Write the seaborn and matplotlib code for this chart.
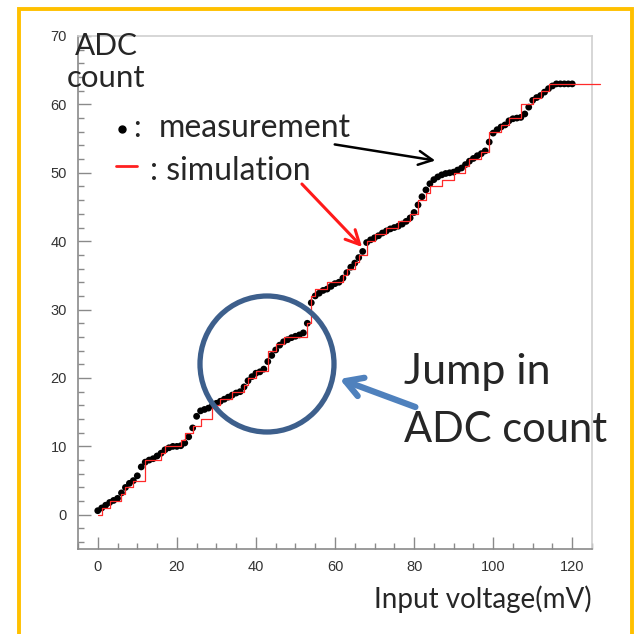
import numpy as np
import pandas as pd
import matplotlib
matplotlib.use("Agg")
import matplotlib.pyplot as plt
from matplotlib.patches import Ellipse, Rectangle, FancyArrowPatch
from matplotlib.lines import Line2D
from matplotlib.ticker import MultipleLocator
import seaborn as sns

# Measured ADC output versus input voltage (1 mV steps, 0..120 mV)
meas_voltage = list(range(0, 121))
meas_adc = [
    0.6, 1.0, 1.4, 1.8, 2.1, 2.4, 3.2, 4.0, 4.6, 5.0,
    5.7, 7.0, 7.7, 8.0, 8.2, 8.6, 9.0, 9.5, 9.8, 10.0,
    10.0, 10.1, 10.5, 11.4, 12.7, 14.4, 15.2, 15.4, 15.6, 16.0,
    16.3, 16.6, 16.9, 17.2, 17.5, 17.8, 18.0, 18.7, 19.6, 20.2,
    20.7, 20.9, 21.3, 22.4, 23.3, 24.1, 24.8, 25.3, 25.6, 25.9,
    26.1, 26.3, 26.6, 28.0, 31.0, 32.0, 32.4, 32.8, 33.0, 33.4,
    33.8, 34.0, 34.6, 35.4, 36.2, 36.8, 37.6, 38.5, 39.8, 40.2,
    40.5, 40.8, 41.2, 41.5, 41.8, 42.0, 42.2, 42.5, 42.9, 43.4,
    44.2, 45.3, 46.5, 47.5, 48.4, 49.0, 49.4, 49.7, 49.9, 50.0,
    50.1, 50.4, 50.7, 51.2, 51.7, 52.1, 52.5, 52.8, 53.2, 54.5,
    55.8, 56.3, 56.7, 57.0, 57.6, 57.9, 58.0, 58.1, 58.6, 59.6,
    60.6, 61.0, 61.3, 61.8, 62.3, 62.7, 63.0, 63.0, 63.0, 63.0,
    63.0,
]

# Simulated ADC code (step response), 0..127 mV
sim_voltage = list(range(0, 128))
sim_code = [
    0, 1, 1, 2, 2, 2, 3, 4, 4, 5,
    5, 5, 8, 8, 8, 8, 9, 10, 10, 10,
    10, 11, 12, 12, 13, 13, 14, 14, 14, 16,
    16, 17, 17, 17, 18, 18, 18, 19, 20, 20,
    21, 21, 21, 24, 24, 25, 25, 26, 26, 26,
    26, 26, 26, 28, 32, 33, 33, 33, 34, 34,
    34, 34, 35, 36, 36, 37, 38, 38, 40, 40,
    41, 41, 41, 42, 42, 42, 43, 43, 43, 44,
    44, 46, 46, 47, 48, 48, 48, 49, 49, 49,
    50, 50, 50, 51, 52, 52, 52, 53, 53, 56,
    56, 56, 57, 57, 58, 58, 58, 60, 60, 60,
    61, 61, 62, 62, 63, 63, 63, 63, 63, 63,
    63, 63, 63, 63, 63, 63, 63, 63,
]

x_ticks = [0, 20, 40, 60, 80, 100, 120]
y_ticks = [0, 10, 20, 30, 40, 50, 60, 70]

meas = pd.DataFrame({"voltage": meas_voltage, "adc": meas_adc})
sim = pd.DataFrame({"voltage": sim_voltage, "adc": sim_code})

sns.set_style("white")
plt.rcParams["font.family"] = ["Lato", "DejaVu Sans"]

W, H = 635, 634
fig = plt.figure(figsize=(W / 100, H / 100), dpi=100)


def fx(px):
    return px / W


def fy(py):
    return 1 - py / H


ax = fig.add_axes([fx(78), fy(549), fx(592) - fx(78), fy(36) - fy(549)])

sns.lineplot(data=sim, x="voltage", y="adc", ax=ax, color="#ff2a2a",
             linewidth=0.9, drawstyle="steps-post", estimator=None,
             sort=False, zorder=3, clip_on=False)
sns.scatterplot(data=meas, x="voltage", y="adc", ax=ax, color="black",
                s=24, edgecolor="none", zorder=2)

ax.set_xlim(-5, 125)
ax.set_ylim(-5, 70)
ax.set_xticks(x_ticks)
ax.set_yticks(y_ticks)
ax.xaxis.set_minor_locator(MultipleLocator(5))
ax.yaxis.set_minor_locator(MultipleLocator(2))
ax.tick_params(axis="both", which="major", direction="in", length=9,
               width=1, color="#8a8a8a", labelsize=10.5, labelcolor="#333333",
               pad=8)
ax.tick_params(axis="both", which="minor", direction="in", length=4.5,
               width=1, color="#8a8a8a")
ax.tick_params(axis="x", which="both", bottom=True)
ax.tick_params(axis="y", which="both", left=True)
for lab in ax.get_xticklabels() + ax.get_yticklabels():
    lab.set_family(["Liberation Sans", "DejaVu Sans"])
ax.set_xlabel("")
ax.set_ylabel("")
for side in ("left", "bottom"):
    ax.spines[side].set_color("#8a8a8a")
    ax.spines[side].set_linewidth(1.2)
for side in ("top", "right"):
    ax.spines[side].set_color("#d0d0d0")
    ax.spines[side].set_linewidth(1.2)

# Axis titles
fig.text(fx(106), fy(55), "ADC", ha="center", va="baseline", fontsize=21.5)
fig.text(fx(106), fy(87), "count", ha="center", va="baseline", fontsize=22.5)
fig.text(fx(592), fy(608), "Input voltage(mV)", ha="right", va="baseline",
         fontsize=20)

# Legend entries
fig.add_artist(Line2D([fx(122)], [fy(129)], transform=fig.transFigure,
                      marker="o", markersize=5, color="black", lw=0))
fig.text(fx(133), fy(137), ":", ha="left", va="baseline", fontsize=22)
fig.text(fx(159), fy(137), "measurement", ha="left", va="baseline",
         fontsize=23)
fig.add_artist(Line2D([fx(116), fx(137)], [fy(166), fy(166)],
                      transform=fig.transFigure, color="#ff2020", lw=2))
fig.text(fx(150), fy(180), ": simulation", ha="left", va="baseline",
         fontsize=23)

# Pointer arrows
fig.add_artist(FancyArrowPatch((fx(332), fy(144)), (fx(438), fy(161)),
                               transform=fig.transFigure,
                               arrowstyle="->,head_length=10,head_width=5",
                               color="black", lw=1.8, mutation_scale=1))
fig.add_artist(FancyArrowPatch((fx(300), fy(182)), (fx(364), fy(249)),
                               transform=fig.transFigure,
                               arrowstyle="->,head_length=10,head_width=5",
                               color="#ff1a1a", lw=2.2, mutation_scale=1))

# Highlight circle and its callout
fig.add_artist(Ellipse((fx(267), fy(364)), 2 * 67 / W, 2 * 68 / H,
                       transform=fig.transFigure, fill=False,
                       edgecolor="#3d5f8c", lw=3.8))
fig.add_artist(FancyArrowPatch((fx(418), fy(408)), (fx(337), fy(378)),
                               transform=fig.transFigure,
                               arrowstyle="->,head_length=12,head_width=7",
                               color="#4f81bd", lw=4.5, mutation_scale=1))
fig.text(fx(404), fy(384), "Jump in", ha="left", va="baseline", fontsize=31)
fig.text(fx(404), fy(442), "ADC count", ha="left", va="baseline", fontsize=30)

# Slide frame
fig.add_artist(Rectangle((fx(19), fy(660)), fx(632) - fx(19), fy(9) - fy(660),
                         transform=fig.transFigure, fill=False,
                         edgecolor="#ffc000", lw=2.8))

fig.savefig("out.png", dpi=100)
